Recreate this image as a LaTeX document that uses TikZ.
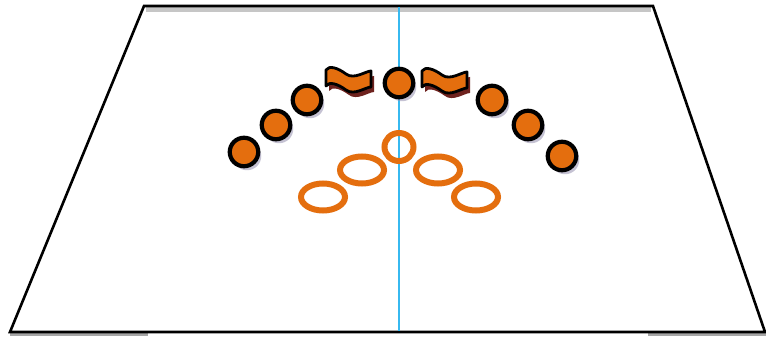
\documentclass[tikz,border=0pt]{standalone}
\usetikzlibrary{shadows}
\definecolor{org}{RGB}{228,110,14}
\definecolor{shd}{RGB}{110,34,30}
\definecolor{bluel}{RGB}{55,185,240}
\definecolor{shgray}{RGB}{150,145,175}
\tikzset{
  dot/.style={circle, draw=black, line width=4.2pt, fill=org, minimum size=28.5pt, inner sep=0pt,
    drop shadow={shadow xshift=3pt, shadow yshift=-4pt, fill=shgray, opacity=0.55}},
  ring/.style={draw=org, line width=6pt},
  edge/.style={draw=black, line width=2.6pt, line join=miter},
  flag/.pic={
    \fill[shd] (3,5) ++(0,3) .. controls +(3,-5) and +(-8,-6) .. ++(20,4) .. controls +(8,6) and +(-5,0) .. ++(25,-3)
      -- ++(0,16) .. controls +(-5,0) and +(8,6) .. ++(-25,3) .. controls +(-8,-6) and +(3,-5) .. ++(-20,-4) -- cycle;
    \draw[black, line width=2.8pt, line join=round, fill=org] (0,0) ++(0,3) .. controls +(3,-5) and +(-8,-6) .. ++(20,4) .. controls +(8,6) and +(-5,0) .. ++(25,-3)
      -- ++(0,16) .. controls +(-5,0) and +(8,6) .. ++(-25,3) .. controls +(-8,-6) and +(3,-5) .. ++(-20,-4) -- cycle;
  }
}
\begin{document}
\begin{tikzpicture}[x=1pt,y=-1pt]
\useasboundingbox (0,0) rectangle (766,339);
\fill[white] (0,0) rectangle (766,339);
% faint bands
\fill[gray!45] (146,7) rectangle (651,12);
\fill[gray!70] (10,332) rectangle (148,336);
\fill[gray!70] (648,332) rectangle (766,336);
% platform
\coordinate (tl) at (144,6);
\coordinate (tr) at (653,6);
\coordinate (br) at (765,332);
\coordinate (bl) at (10,332);
\draw[edge] (tl) -- (tr) -- (br) -- (bl) -- cycle;
% axis
\coordinate (axt) at (399,7);
\coordinate (axb) at (399,331);
\draw[bluel, line width=1.6pt] (axt) -- (axb);
% rings
\draw[ring] (399,147) ellipse [x radius=14.5, y radius=14];
\draw[ring] (362,170) ellipse [x radius=22, y radius=13.5];
\draw[ring] (323,197) ellipse [x radius=22, y radius=13.5];
\draw[ring] (438,170) ellipse [x radius=22, y radius=13.5];
\draw[ring] (476,197) ellipse [x radius=22, y radius=13.5];
% flags
\pic at (326,67) {flag};
\pic at (422,68) {flag};
% dots
\node[dot] (d1) at (244,152) {};
\node[dot] (d2) at (276,125) {};
\node[dot] (d3) at (307,100) {};
\node[dot] (d4) at (399,83) {};
\node[dot] (d5) at (492,100) {};
\node[dot] (d6) at (528,125) {};
\node[dot] (d7) at (562,156) {};
\end{tikzpicture}
\end{document}
